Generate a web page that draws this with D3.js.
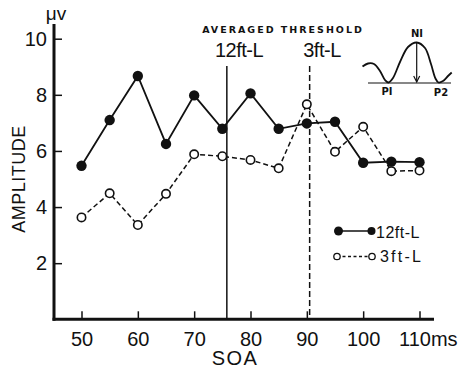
<!DOCTYPE html>
<html>
<head>
<meta charset="utf-8">
<script src="https://cdn.jsdelivr.net/npm/d3@7"></script>
<style>
  html, body { margin: 0; padding: 0; background: #fff; }
  svg { display: block; }
  text { fill: #111; font-family: "Liberation Sans", Arial, sans-serif; }
</style>
</head>
<body>
<svg id="chart" width="464" height="368"></svg>
<script>
// SOA (ms) and VEP amplitude (µV) for two luminance levels
const soa = [50, 55, 60, 65, 70, 75, 80, 85, 90, 95, 100, 105, 110];
const amp12 = [5.47, 7.10, 8.67, 6.25, 7.98, 6.79, 8.05, 6.79, 6.98, 7.04, 5.58, 5.62, 5.60];
const amp3 = [3.63, 4.49, 3.36, 4.47, 5.88, 5.81, 5.68, 5.38, 7.66, 5.97, 6.86, 5.28, 5.30];
const xTicks = [50, 60, 70, 80, 90, 100, 110];
const yTicks = [2, 4, 6, 8, 10];
// averaged threshold SOA for each luminance
const threshold12 = 75.8;
const threshold3 = 90.5;

const svg = d3.select("#chart");
const x = d3.scaleLinear().domain([50, 110]).range([81.5, 419.5]);
const y = d3.scaleLinear().domain([0, 10]).range([319.3, 38.7]);
const xMin = x.invert(54), xMax = x.invert(434);
const yTop = y.invert(24);

// axes
const yAxis = d3.axisLeft(y).tickValues(yTicks).tickSize(-8).tickPadding(14).tickFormat(d3.format("d"));
const gy = svg.append("g").attr("transform", `translate(${x(xMin)},0)`).call(yAxis);
gy.select(".domain").remove();
gy.selectAll(".tick line").attr("stroke", "#111").attr("stroke-width", 1.5);
gy.selectAll(".tick text").attr("font-size", 20).attr("x", -7).style("fill", "#111")
  .style("font-family", "'Liberation Sans', Arial, sans-serif");

const xAxis = d3.axisBottom(x).tickValues(xTicks).tickSize(-8).tickPadding(13)
  .tickFormat(d => d === 110 ? "110ms" : d);
const gx = svg.append("g").attr("transform", `translate(0,${y(0)})`).call(xAxis);
gx.select(".domain").remove();
gx.selectAll(".tick line").attr("stroke", "#111").attr("stroke-width", 1.5);
gx.selectAll(".tick text").attr("font-size", 20).style("fill", "#111")
  .style("font-family", "'Liberation Sans', Arial, sans-serif");
gx.selectAll(".tick text").filter(d => d === 110).attr("text-anchor", "start").attr("dx", "-21");

// axis lines
svg.append("line").attr("x1", x(xMin)).attr("x2", x(xMin)).attr("y1", y(yTop)).attr("y2", y(0) + 1.5)
  .attr("stroke", "#111").attr("stroke-width", 3);
svg.append("line").attr("x1", x(xMin) - 1.5).attr("x2", x(xMax)).attr("y1", y(0)).attr("y2", y(0))
  .attr("stroke", "#111").attr("stroke-width", 3);

// axis titles
svg.append("text").attr("x", 56).attr("y", 20).attr("text-anchor", "middle").attr("font-size", 19).text("μv");
svg.append("text").attr("transform", `translate(25,179) rotate(-90)`).attr("text-anchor", "middle")
  .attr("font-size", 18).attr("letter-spacing", 0.5).text("AMPLITUDE");
svg.append("text").attr("x", 235).attr("y", 365).attr("text-anchor", "middle")
  .attr("font-size", 20).attr("letter-spacing", 1.5).text("SOA");

// threshold markers
svg.append("line").attr("x1", x(threshold12)).attr("x2", x(threshold12)).attr("y1", 66).attr("y2", y(0))
  .attr("stroke", "#111").attr("stroke-width", 1.5);
svg.append("line").attr("x1", x(threshold3)).attr("x2", x(threshold3)).attr("y1", 66).attr("y2", y(0))
  .attr("stroke", "#111").attr("stroke-width", 1.5).attr("stroke-dasharray", "6,3");
svg.append("text").attr("x", 283).attr("y", 33).attr("text-anchor", "middle").attr("font-size", 9.5)
  .attr("font-weight", "bold").attr("letter-spacing", 2)
  .style("font-family", "'DejaVu Sans', sans-serif").text("AVERAGED THRESHOLD");
svg.append("text").attr("x", 239).attr("y", 57).attr("text-anchor", "middle")
  .attr("font-size", 20).attr("letter-spacing", -0.5).text("12ft-L");
svg.append("text").attr("x", 322).attr("y", 57).attr("text-anchor", "middle")
  .attr("font-size", 20).attr("letter-spacing", -0.5).text("3ft-L");

// series lines
const line = d3.line().x((d, i) => x(soa[i])).y(d => y(d));
svg.append("path").datum(amp3).attr("d", line).attr("fill", "none").attr("stroke", "#111")
  .attr("stroke-width", 1.5).attr("stroke-dasharray", "5,3");
svg.append("path").datum(amp12).attr("d", line).attr("fill", "none").attr("stroke", "#111")
  .attr("stroke-width", 1.8);

// markers
svg.append("g").selectAll("circle").data(amp3).join("circle")
  .attr("cx", (d, i) => x(soa[i])).attr("cy", d => y(d)).attr("r", 4.2)
  .attr("fill", "#fff").attr("stroke", "#111").attr("stroke-width", 1.6);
svg.append("g").selectAll("circle").data(amp12).join("circle")
  .attr("cx", (d, i) => x(soa[i])).attr("cy", d => y(d)).attr("r", 5.2)
  .attr("fill", "#111");

// legend
const lg = svg.append("g");
lg.append("line").attr("x1", 338).attr("x2", 372).attr("y1", 231).attr("y2", 231).attr("stroke", "#111").attr("stroke-width", 1.5);
lg.append("circle").attr("cx", 338.5).attr("cy", 231).attr("r", 4.5).attr("fill", "#111");
lg.append("circle").attr("cx", 371.5).attr("cy", 231).attr("r", 4).attr("fill", "#111");
lg.append("text").attr("x", 376).attr("y", 238).attr("font-size", 16).attr("letter-spacing", 0.5).text("12ft-L");
lg.append("line").attr("x1", 337).attr("x2", 372).attr("y1", 256.5).attr("y2", 256.5).attr("stroke", "#111")
  .attr("stroke-width", 1.3).attr("stroke-dasharray", "3,2.5");
lg.append("circle").attr("cx", 337).attr("cy", 256.5).attr("r", 3.2).attr("fill", "#fff").attr("stroke", "#111").attr("stroke-width", 1.3);
lg.append("circle").attr("cx", 372).attr("cy", 256.5).attr("r", 3.2).attr("fill", "#fff").attr("stroke", "#111").attr("stroke-width", 1.3);
lg.append("text").attr("x", 380).attr("y", 262).attr("font-size", 16).attr("letter-spacing", 2.2).text("3ft-L");

// inset: VEP waveform with N1 amplitude measured from the P1–P2 baseline
const inset = svg.append("g");
const wave = [[362.5, 66.5], [368, 63.5], [374, 64], [380, 71], [385, 80], [388.5, 82.5], [393, 78],
  [400, 62], [408, 47], [416.7, 42.5], [425, 48], [431, 64], [435.5, 78.5], [438.5, 82.5],
  [443, 81], [448, 76], [451.7, 72.5]];
inset.append("path").attr("d", d3.line().curve(d3.curveCatmullRom)(wave))
  .attr("fill", "none").attr("stroke", "#111").attr("stroke-width", 1.8);
inset.append("line").attr("x1", 368).attr("x2", 451).attr("y1", 83).attr("y2", 83).attr("stroke", "#111").attr("stroke-width", 1.2);
inset.append("line").attr("x1", 416.7).attr("x2", 416.7).attr("y1", 43).attr("y2", 82).attr("stroke", "#111").attr("stroke-width", 1.2);
inset.append("path").attr("d", "M413.7,76 L416.7,82 L419.7,76").attr("fill", "none").attr("stroke", "#111").attr("stroke-width", 1.2);
inset.append("text").attr("x", 417).attr("y", 37).attr("text-anchor", "middle").attr("font-size", 10)
  .attr("font-weight", "bold").style("font-family", "'DejaVu Sans', sans-serif").text("NI");
inset.append("text").attr("x", 387).attr("y", 95).attr("text-anchor", "middle").attr("font-size", 10)
  .attr("font-weight", "bold").style("font-family", "'DejaVu Sans', sans-serif").text("PI");
inset.append("text").attr("x", 441).attr("y", 96).attr("text-anchor", "middle").attr("font-size", 10)
  .attr("font-weight", "bold").style("font-family", "'DejaVu Sans', sans-serif").text("P2");
</script>
</body>
</html>
